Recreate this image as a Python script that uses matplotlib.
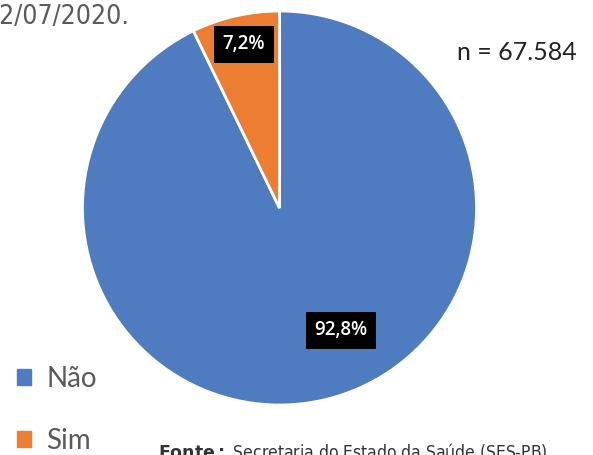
import matplotlib.pyplot as plt
from matplotlib.patches import Patch

# data
categories = ["Não", "Sim"]
values = [92.8, 7.2]
pct_labels = ["92,8%", "7,2%"]
colors = ["#4f7bc1", "#ed7d31"]
n_text = "n = 67.584"

W, H = 593, 455
fig = plt.figure(figsize=(W / 100, H / 100), dpi=100)

# pie axes placed in pixel units
cx, cy, r = 279.5, 208, 197
ax = fig.add_axes([(cx - r) / W, (H - cy - r) / H, 2 * r / W, 2 * r / H])
wedges, _ = ax.pie(values, colors=colors, startangle=90, counterclock=False,
                   radius=1, wedgeprops=dict(edgecolor="white", linewidth=2))
ax.set_xlim(-1, 1)
ax.set_ylim(-1, 1)
ax.set_aspect("equal")
ax.axis("off")

# percentage boxes
label_pos = [(0.31, -0.62), (-0.18, 0.83)]
for (x, y), lab in zip(label_pos, pct_labels):
    ax.text(x, y, lab, ha="center", va="center", color="white", fontsize=13.5,
            family="Open Sans", fontweight="semibold",
            bbox=dict(boxstyle="square,pad=0.45", fc="black", ec="none"))

fig.text(577 / W, 1 - 52 / H, n_text, ha="right", va="center",
         fontsize=18, family="Lato", color="#222222")

# cut-off title and source text
fig.text(129 / W, 1 - 17 / H, "22/07/2020.", ha="right", va="center",
         fontsize=19, family="DejaVu Sans", stretch="condensed", color="#5a5a5a")
fig.text(158 / W, 1 - 452 / H, r"$\bf{Fonte:}$ Secretaria do Estado da Saúde (SES-PB)",
         ha="left", va="center", fontsize=12.5, family="DejaVu Sans",
         stretch="condensed", color="#333333")

# legend
handles = [Patch(color=c, label=l) for c, l in zip(colors, categories)]
fig.legend(handles=handles, loc="upper left", bbox_to_anchor=(17 / W, 1 - 366 / H),
           frameon=False, handlelength=0.5, handleheight=0.5, borderpad=0,
           borderaxespad=0, labelspacing=1.3, handletextpad=0.55,
           prop={"family": "Lato", "size": 20}, labelcolor="#595959")

fig.savefig("out.png", dpi=100)
